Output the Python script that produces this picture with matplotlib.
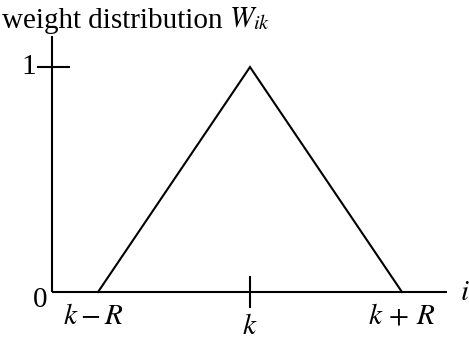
import numpy as np
import matplotlib
matplotlib.use("Agg")
import matplotlib.pyplot as plt

plt.rcParams['font.family'] = ['Liberation Serif', 'DejaVu Serif']
plt.rcParams['mathtext.fontset'] = 'stix'

# data: k = 0, R = 1
tri_x = [-1.0, 0.0, 1.0]
tri_y = [0.0, 1.0, 0.0]
k_pos = 0.0
one_level = 1.0

fig = plt.figure(figsize=(4.69, 3.46), dpi=100)
ax = fig.add_axes([0, 0, 1, 1])
ax.set_xlim(-1.645, 1.441)
ax.set_ylim(-0.24, 1.298)
ax.axis('off')

lw = 1.5
# axes
ax.plot([-1.303, -1.303], [0, 1.138], color='black', lw=lw, solid_capstyle='butt')
ax.plot([-1.303, 1.296], [0, 0], color='black', lw=lw, solid_capstyle='butt')
# ticks
ax.plot([-1.395, -1.19], [one_level, one_level], color='black', lw=lw)
ax.plot([k_pos, k_pos], [0.067, -0.067], color='black', lw=lw)
# triangle
ax.plot(tri_x, tri_y, color='black', lw=lw, solid_joinstyle='miter')

fs = 21
ax.text(-1.63, 1.205, 'weight distribution', fontsize=fs, ha='left', va='center')
ax.text(-0.14, 1.215, r'$W_{ik}$', fontsize=fs, ha='left', va='center')
ax.text(-1.455, one_level, '1', fontsize=fs, ha='center', va='center')
ax.text(-1.38, -0.035, '0', fontsize=fs, ha='center', va='center')
ax.text(-1.03, -0.11, r'$k - R$', fontsize=fs, ha='center', va='center')
ax.text(k_pos, -0.155, r'$k$', fontsize=fs, ha='center', va='center')
ax.text(1.0, -0.11, r'$k\,+\,R$', fontsize=fs, ha='center', va='center')
ax.text(1.415, -0.005, r'$i$', fontsize=fs, ha='center', va='center')

fig.savefig('out.png', dpi=100)
